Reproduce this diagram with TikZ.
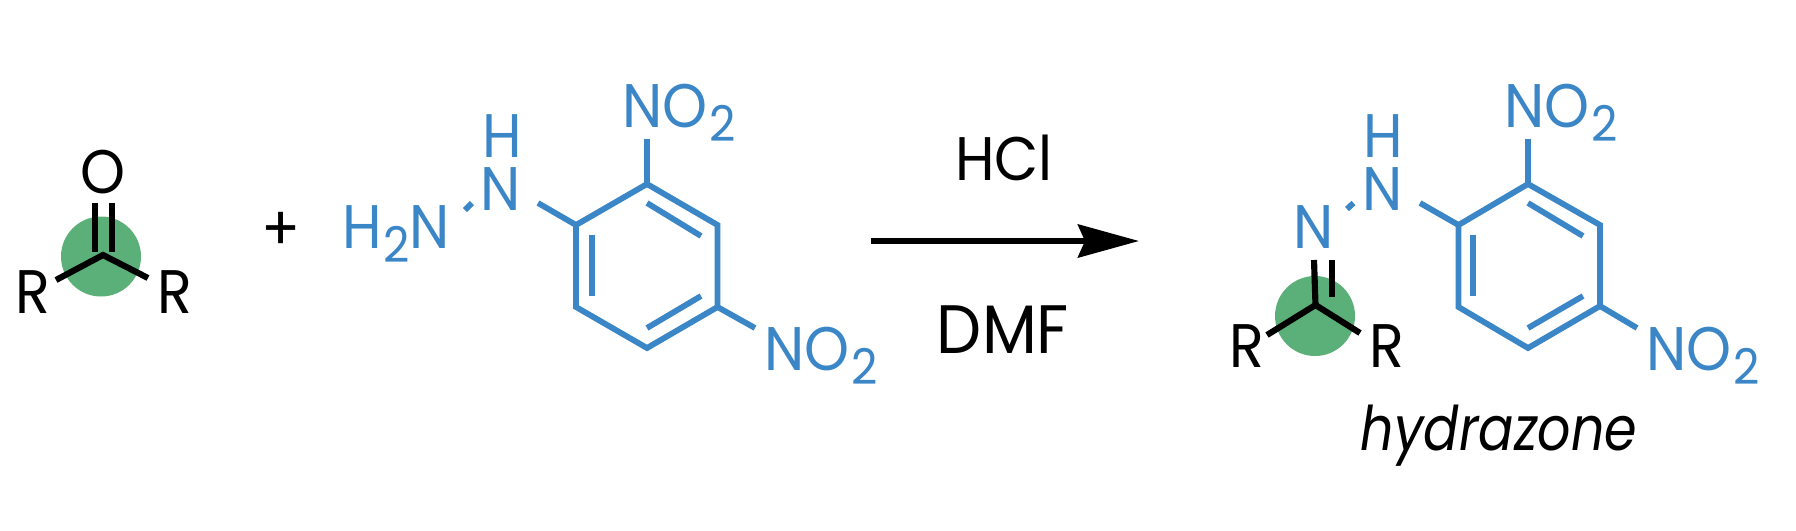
\documentclass[tikz,border=0pt]{standalone}
\usepackage{fontspec}
\setmainfont{Poppins}[FakeStretch=0.93, ItalicFeatures={FakeStretch=0.85}]
\usetikzlibrary{arrows.meta}
\definecolor{hydblue}{HTML}{3B86C6}
\definecolor{hydgreen}{HTML}{5BAF78}
\newcommand{\subtwo}{\kern.02em\raisebox{-.23em}{\fontsize{14}{14}\selectfont 2}}
\tikzset{
  bond/.style={draw=black, line width=1.75pt},
  arbond/.style={draw=hydblue, line width=1.65pt},
  lab/.style={inner sep=0pt, font=\fontsize{17.5}{17.5}\selectfont},
  arlab/.style={lab, text=hydblue, anchor=base west}
}
\begin{document}
\begin{tikzpicture}
\useasboundingbox (0,0) rectangle (17.96,5.30);
\fill[hydgreen] (1.01,2.735) circle (0.40);
\fill[hydgreen] (13.15,2.14) circle (0.40);
% ketone
\node[lab] (oxa) at (1.03,3.58) {O};
\node[lab] (rla) at (0.33,2.38) {R};
\node[lab] (rra) at (1.75,2.38) {R};
\coordinate (ca) at (1.03,2.75);
\coordinate (rbla) at (0.56,2.50);
\coordinate (rbra) at (1.48,2.52);
\draw[bond] (0.95,3.27) coordinate (dla) -- (0.95,2.78) coordinate (dlb);
\draw[bond] (1.12,3.27) coordinate (dra) -- (1.12,2.78) coordinate (drb);
\draw[bond, line join=miter] (rbla) -- (ca) -- (rbra);
\node[lab] (plus) at (2.81,2.99) {+};
% hydrazine
\node[arlab] (nha) at (3.42,2.82) {H\subtwo N};
\node[arlab] (nhb) at (4.80,3.20) {N};
\node[lab, text=hydblue] (hha) at (5.02,3.94) {H};
\coordinate (daa) at (4.65,3.20);
\coordinate (dab) at (4.72,3.27);
\draw[arbond] (daa) -- (dab);
\coordinate (c1a) at (5.76,3.05);
\coordinate (c2a) at (6.47,3.46);
\coordinate (c3a) at (7.175,3.05);
\coordinate (c4a) at (7.175,2.23);
\coordinate (c5a) at (6.47,1.82);
\coordinate (c6a) at (5.76,2.23);
\coordinate (bna) at (5.38,3.27);
\draw[arbond] (bna) -- (c1a);
\draw[arbond, line join=miter] (c1a) -- (c2a) -- (c3a) -- (c4a) -- (c5a) -- (c6a) -- cycle;
\coordinate (i1a) at (6.47,3.27);
\coordinate (i2a) at (7.01,2.94);
\coordinate (i3a) at (7.01,2.34);
\coordinate (i4a) at (6.47,2.02);
\coordinate (i5a) at (5.92,2.95);
\coordinate (i6a) at (5.92,2.34);
\draw[arbond] (i1a) -- (i2a);
\draw[arbond] (i3a) -- (i4a);
\draw[arbond] (i5a) -- (i6a);
\node[arlab] (noa) at (6.22,4.03) {NO\subtwo};
\coordinate (nba) at (6.47,3.91);
\draw[arbond] (c2a) -- (nba);
\node[arlab] (nob) at (7.64,1.60) {NO\subtwo};
\coordinate (nbb) at (7.55,2.02);
\draw[arbond] (c4a) -- (nbb);
% arrow
\coordinate (arra) at (8.71,2.89);
\coordinate (arrb) at (11.39,2.89);
\draw[line width=1.7pt, -{Stealth[length=6.1mm, width=3.3mm, inset=0.7mm]}] (arra) -- (arrb);
\node[lab] (hcl) at (10.04,3.72) {HCl};
\node[lab, font=\fontsize{19.5}{19.5}\selectfont] (dmf) at (10.03,2.00) {DMF};
% hydrazone
\node[arlab] (nhc) at (12.93,2.82) {N};
\node[arlab] (nhd) at (13.62,3.20) {N};
\node[lab, text=hydblue] (hhb) at (13.83,3.94) {H};
\coordinate (dac) at (13.47,3.21);
\coordinate (dad) at (13.535,3.27);
\draw[arbond] (dac) -- (dad);
\coordinate (c1b) at (14.585,3.05);
\coordinate (c2b) at (15.28,3.46);
\coordinate (c3b) at (16.00,3.05);
\coordinate (c4b) at (16.00,2.24);
\coordinate (c5b) at (15.28,1.82);
\coordinate (c6b) at (14.585,2.23);
\coordinate (bnb) at (14.20,3.27);
\draw[arbond] (bnb) -- (c1b);
\draw[arbond, line join=miter] (c1b) -- (c2b) -- (c3b) -- (c4b) -- (c5b) -- (c6b) -- cycle;
\coordinate (i1b) at (15.28,3.27);
\coordinate (i2b) at (15.83,2.94);
\coordinate (i3b) at (15.83,2.34);
\coordinate (i4b) at (15.28,2.02);
\coordinate (i5b) at (14.73,2.95);
\coordinate (i6b) at (14.73,2.34);
\draw[arbond] (i1b) -- (i2b);
\draw[arbond] (i3b) -- (i4b);
\draw[arbond] (i5b) -- (i6b);
\node[arlab] (noc) at (15.04,4.03) {NO\subtwo};
\coordinate (nbc) at (15.28,3.91);
\draw[arbond] (c2b) -- (nbc);
\node[arlab] (nod) at (16.46,1.60) {NO\subtwo};
\coordinate (nbd) at (16.37,2.02);
\draw[arbond] (c4b) -- (nbd);
% carbonyl of hydrazone
\node[lab] (rlb) at (12.47,1.84) {R};
\node[lab] (rrb) at (13.87,1.84) {R};
\coordinate (cb) at (13.155,2.25);
\coordinate (rblb) at (12.67,1.95);
\coordinate (rbrb) at (13.60,1.97);
\coordinate (dlc) at (13.14,2.70);
\coordinate (drc) at (13.32,2.70);
\coordinate (drd) at (13.32,2.33);
\draw[bond] (dlc) -- (cb);
\draw[bond] (drc) -- (drd);
\draw[bond, line join=miter] (rblb) -- (cb) -- (rbrb);
\node[lab, anchor=base] (hyd) at (14.99,0.80) {\itshape hydrazone};
\end{tikzpicture}
\end{document}
